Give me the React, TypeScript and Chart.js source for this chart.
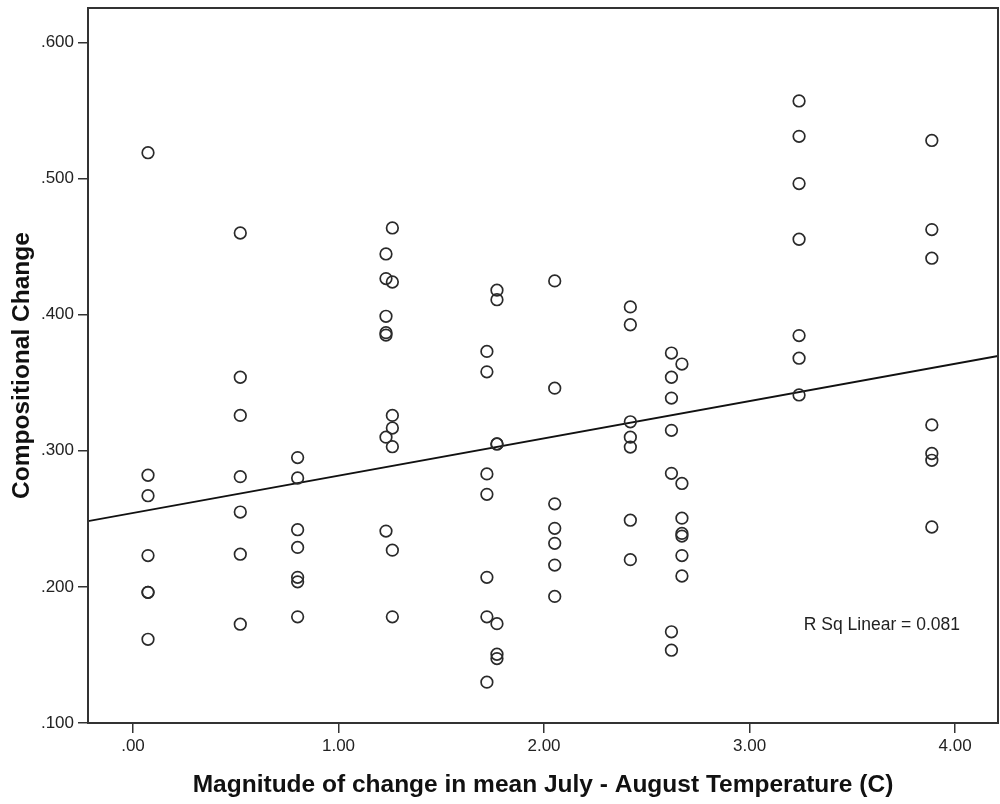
import React, { useEffect, useRef } from "react";
import { Chart, registerables } from "chart.js";

Chart.register(...registerables);

// Magnitude of change in mean July-August temperature (C), one value per site
const siteTemps = [0.073, 0.522, 0.801, 1.231, 1.262, 1.722, 1.771, 2.052, 2.42, 2.62, 2.671, 3.241, 3.887];

// Compositional change values for each site (same order as siteTemps)
const siteA = [0.519, 0.282, 0.267, 0.223, 0.196, 0.196, 0.1615];
const siteB = [0.46, 0.354, 0.326, 0.281, 0.255, 0.224, 0.1726];
const siteC = [0.295, 0.28, 0.242, 0.229, 0.207, 0.2037, 0.178];
const siteD = [0.4446, 0.4265, 0.3988, 0.3868, 0.385, 0.31, 0.241];
const siteE = [0.4637, 0.424, 0.326, 0.3167, 0.303, 0.227, 0.178];
const siteF = [0.373, 0.358, 0.283, 0.268, 0.207, 0.178, 0.13];
const siteG = [0.418, 0.411, 0.305, 0.305, 0.173, 0.1505, 0.1473];
const siteH = [0.4248, 0.346, 0.261, 0.243, 0.232, 0.216, 0.193];
const siteI = [0.4057, 0.3926, 0.3213, 0.31, 0.3027, 0.249, 0.22];
const siteJ = [0.3718, 0.354, 0.3387, 0.315, 0.2834, 0.167, 0.1535];
const siteK = [0.3637, 0.276, 0.2505, 0.2393, 0.2373, 0.223, 0.208];
const siteL = [0.557, 0.531, 0.4963, 0.4554, 0.3846, 0.368, 0.341];
const siteM = [0.528, 0.4625, 0.4415, 0.319, 0.298, 0.293, 0.244];
const siteChanges = [siteA, siteB, siteC, siteD, siteE, siteF, siteG, siteH, siteI, siteJ, siteK, siteL, siteM];

// Axis ticks and ranges
const xTickValues = [0, 1, 2, 3, 4];
const yTickValues = [0.1, 0.2, 0.3, 0.4, 0.5, 0.6];
const xRange = [-0.219, 4.209];
const yRange = [0.1, 0.6253];

// Linear fit
const fitIntercept = 0.2543;
const fitSlope = 0.0274;
const rSqLabel = "R Sq Linear = 0.081";
const rSqAnchor = { x: 3.264, y: 0.1718 };

const xTitle = "Magnitude of change in mean July - August Temperature (C)";
const yTitle = "Compositional Change";

const FONT = "'Liberation Sans', Arial, Helvetica, sans-serif";
const INK = "#333333";

const fmtX = (v: number) => {
  const s = Number(v).toFixed(2);
  return s.startsWith("0") ? s.slice(1) : s;
};
const fmtY = (v: number) => {
  const s = Number(v).toFixed(3);
  return s.startsWith("0") ? s.slice(1) : s;
};

const framePlugin = {
  id: "frame",
  afterDraw(chart: any) {
    const { ctx, chartArea } = chart;
    ctx.save();
    ctx.strokeStyle = INK;
    ctx.lineWidth = 2;
    ctx.strokeRect(chartArea.left, chartArea.top, chartArea.right - chartArea.left, chartArea.bottom - chartArea.top);
    ctx.restore();
  },
};

const rSqPlugin = {
  id: "rsq",
  afterDraw(chart: any) {
    const { ctx, scales } = chart;
    ctx.save();
    ctx.font = `17.5px ${FONT}`;
    ctx.fillStyle = "#222222";
    ctx.textAlign = "left";
    ctx.textBaseline = "middle";
    ctx.fillText(rSqLabel, scales.x.getPixelForValue(rSqAnchor.x), scales.y.getPixelForValue(rSqAnchor.y));
    ctx.restore();
  },
};

export default function App() {
  const canvasRef = useRef<HTMLCanvasElement | null>(null);

  useEffect(() => {
    const canvas = canvasRef.current;
    if (!canvas) return;
    const points = siteTemps.flatMap((x, i) => siteChanges[i].map((y) => ({ x, y })));
    const fitLine = xRange.map((x) => ({ x, y: fitIntercept + fitSlope * x }));

    const chart = new Chart(canvas, {
      type: "scatter",
      data: {
        datasets: [
          {
            type: "scatter",
            data: points,
            pointStyle: "circle",
            pointRadius: 5.8,
            pointBorderWidth: 1.7,
            borderWidth: 1.7,
            pointBorderColor: "#2a2a2a",
            borderColor: "#2a2a2a",
            pointBackgroundColor: "rgba(0,0,0,0)",
            backgroundColor: "rgba(0,0,0,0)",
            order: 1,
          } as any,
          {
            type: "line",
            data: fitLine,
            borderColor: "#111111",
            borderWidth: 1.8,
            pointRadius: 0,
            fill: false,
            order: 2,
          } as any,
        ],
      },
      options: {
        responsive: false,
        animation: false,
        events: [],
        layout: { autoPadding: false, padding: { left: 0, top: 8, right: 2, bottom: 0 } },
        plugins: { legend: { display: false }, tooltip: { enabled: false } },
        scales: {
          x: {
            type: "linear",
            position: "bottom",
            min: xRange[0],
            max: xRange[1],
            afterBuildTicks: (s: any) => {
              s.ticks = xTickValues.map((v) => ({ value: v }));
            },
            afterFit: (s: any) => {
              s.height = 81;
              s.paddingLeft = 0;
              s.paddingRight = 0;
            },
            grid: { drawOnChartArea: false, drawTicks: true, tickLength: 10, color: INK, lineWidth: 1.5 },
            border: { display: false },
            ticks: {
              padding: 3,
              color: "#222222",
              font: { family: FONT, size: 17 },
              maxRotation: 0,
              autoSkip: false,
              callback: (v: any) => fmtX(v),
            },
            title: {
              display: true,
              text: xTitle,
              color: "#111111",
              font: { family: FONT, size: 24.5, weight: "bold", lineHeight: 1 },
              padding: { top: 0, bottom: 6.75 },
            },
          },
          y: {
            type: "linear",
            position: "left",
            min: yRange[0],
            max: yRange[1],
            afterBuildTicks: (s: any) => {
              s.ticks = yTickValues.map((v) => ({ value: v }));
            },
            afterFit: (s: any) => {
              s.width = 88;
              s.paddingTop = 0;
              s.paddingBottom = 0;
            },
            grid: { drawOnChartArea: false, drawTicks: true, tickLength: 10, color: INK, lineWidth: 1.5 },
            border: { display: false },
            ticks: {
              padding: 4,
              color: "#222222",
              font: { family: FONT, size: 17 },
              autoSkip: false,
              callback: (v: any) => fmtY(v),
            },
            title: {
              display: true,
              text: yTitle,
              color: "#111111",
              font: { family: FONT, size: 24.5, weight: "bold", lineHeight: 1 },
              padding: { top: 10, bottom: 0 },
            },
          },
        },
      } as any,
      plugins: [framePlugin, rSqPlugin],
    });

    return () => chart.destroy();
  }, []);

  return (
    <div style={{ position: "absolute", left: 0, top: 0, width: 1000, height: 804, background: "#ffffff" }}>
      <canvas ref={canvasRef} width={1000} height={804} style={{ display: "block" }} />
    </div>
  );
}
